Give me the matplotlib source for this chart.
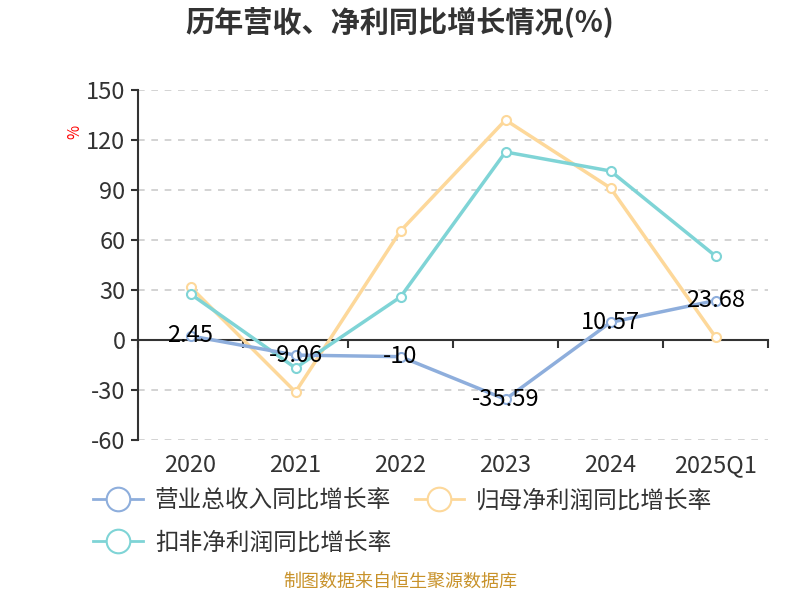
import numpy as np
import matplotlib
matplotlib.use('Agg')
from matplotlib import pyplot as plt
from matplotlib.lines import Line2D
from matplotlib.transforms import blended_transform_factory

plt.rcParams['font.family'] = ['Noto Sans CJK SC', 'DejaVu Sans']
plt.rcParams['axes.unicode_minus'] = False

periods = ['2020', '2021', '2022', '2023', '2024', '2025Q1']
revenue_growth = [2.45, -9.06, -10, -35.59, 10.57, 23.68]
net_profit_growth = [31.8, -31.2, 65.4, 132, 91.2, 1.8]
deducted_profit_growth = [27.6, -16.8, 25.8, 112.8, 101.4, 50.4]
series_names = ['营业总收入同比增长率', '归母净利润同比增长率', '扣非净利润同比增长率']
colors = ['#8eaedc', '#fdd89a', '#7fd4d6']

fig = plt.figure(figsize=(8, 6), dpi=100)
ax = fig.add_axes([0.1725, 0.2667, 0.7875, 0.5833])

x = np.arange(len(periods))
for vals, c in [(net_profit_growth, colors[1]), (deducted_profit_growth, colors[2]), (revenue_growth, colors[0])]:
    ax.plot(x, vals, color=c, lw=2.5, marker='o', ms=6.5, mfc='white', mec=c, mew=1.5, zorder=3)

# подписи значений только для выручки
for xi, v in zip(x, revenue_growth):
    ax.text(xi, v, f'{v:g}', ha='center', va='center', fontsize=17, color='black', zorder=5)

ax.set_xlim(-0.5, len(periods) - 0.5)
ax.set_ylim(-60, 150)
ax.set_yticks(np.arange(-60, 151, 30))
ax.tick_params(axis='y', labelsize=17, labelcolor='#333333', color='#333333', length=5, width=1.5, pad=4)
ax.grid(axis='y', linestyle=(0, (4, 4)), color='#cccccc', lw=1.2)

for s in ['top', 'right']:
    ax.spines[s].set_visible(False)
ax.spines['left'].set_color('#333333')
ax.spines['left'].set_linewidth(1.5)
ax.spines['bottom'].set_position(('data', 0))
ax.spines['bottom'].set_color('#333333')
ax.spines['bottom'].set_linewidth(1.5)

ax.set_xticks(np.arange(-0.5, len(periods), 1))
ax.set_xticklabels([])
ax.tick_params(axis='x', length=6, width=1.5, color='#333333')
trans = blended_transform_factory(ax.transData, ax.transAxes)
for xi, p in zip(x, periods):
    ax.text(xi, -0.04, p, transform=trans, ha='center', va='top', fontsize=17, color='#333333')

ax.text(-0.1, 0.88, '%', transform=ax.transAxes, rotation=90, color='red', fontsize=11,
        ha='center', va='center')

fig.text(0.5, 0.962, '历年营收、净利同比增长情况(%)', ha='center', va='center',
         fontsize=21, fontweight='bold', color='#333333')

handles = [Line2D([0], [0], color=c, lw=2, marker='o', ms=17, mfc='white', mec=c, mew=1.5)
           for c in colors]
order = [0, 2, 1]
fig.legend([handles[i] for i in order], [series_names[i] for i in order], ncol=2,
           loc='upper left', bbox_to_anchor=(0.105, 0.2),
           frameon=False, fontsize=17, labelcolor='#333333', handlelength=2.1,
           columnspacing=1.0, handletextpad=0.5, labelspacing=0.8, borderaxespad=0)

fig.text(0.5, 0.015, '制图数据来自恒生聚源数据库', ha='center', va='bottom', fontsize=13, color='#c8922a')

plt.savefig('out.png')
